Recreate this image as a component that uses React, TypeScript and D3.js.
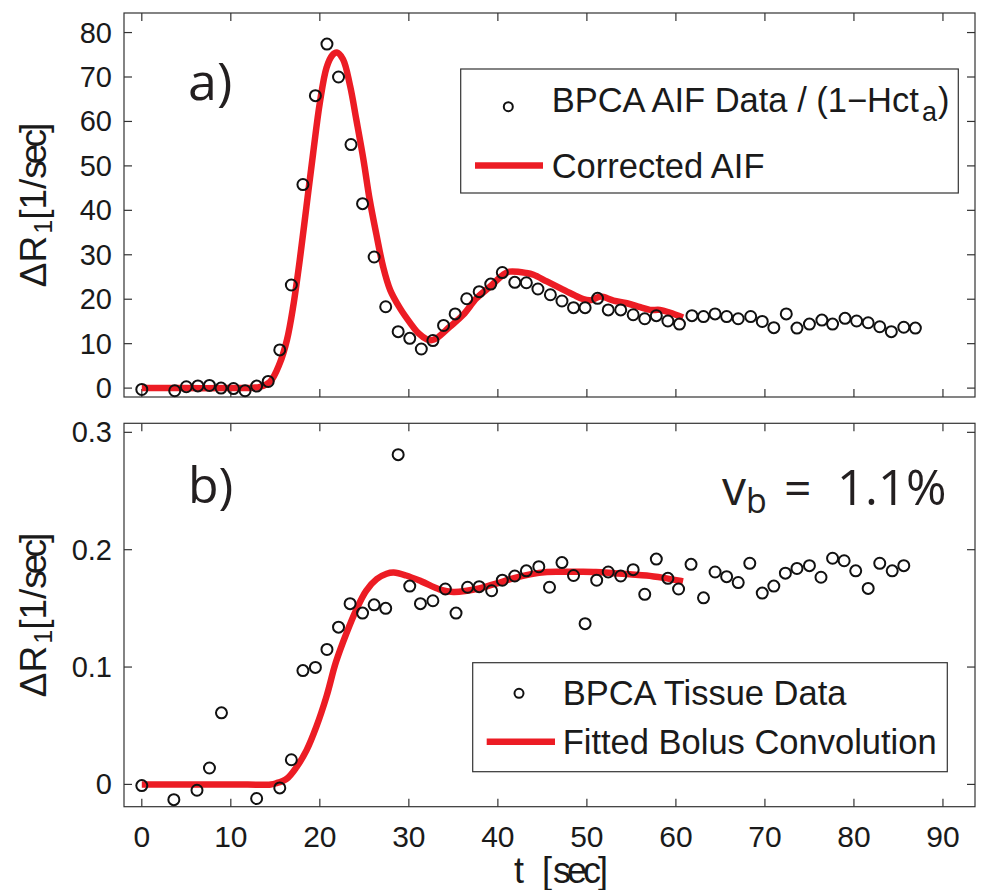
import React from "react";
import * as d3 from "d3";

// ---- Data ----
const aifT = [0, 3.7, 5.0, 6.3, 7.6, 8.9, 10.3, 11.6, 12.9, 14.2, 15.5, 16.8, 18.1, 19.5, 20.8, 22.1, 23.5, 24.8, 26.1, 27.4, 28.8, 30.1, 31.4, 32.7, 33.9, 35.2, 36.5, 37.9, 39.2, 40.5, 41.9, 43.2, 44.5, 45.9, 47.2, 48.5, 49.8, 51.2, 52.4, 53.8, 55.2, 56.5, 57.8, 59.1, 60.4, 61.8, 63.1, 64.4, 65.7, 67.0, 68.4, 69.7, 71.0, 72.4, 73.6, 75.0, 76.4, 77.6, 79.0, 80.3, 81.6, 82.9, 84.2, 85.6, 86.9];
const aifV = [-0.3, -0.6, 0.3, 0.5, 0.6, 0.0, -0.1, -0.6, 0.45, 1.5, 8.6, 23.2, 45.8, 65.8, 77.4, 70.0, 54.8, 41.5, 29.5, 18.3, 12.7, 11.2, 8.8, 10.7, 14.1, 16.7, 20.1, 21.7, 23.4, 26.0, 23.8, 23.7, 22.3, 21.0, 19.6, 18.1, 18.1, 20.2, 17.6, 17.6, 16.5, 15.6, 16.3, 15.1, 14.4, 16.3, 16.1, 16.7, 16.1, 15.6, 16.1, 15.0, 13.6, 16.7, 13.5, 14.4, 15.3, 14.4, 15.7, 15.1, 14.7, 13.8, 12.7, 13.7, 13.5];

const aifFitT = [0, 5, 10, 12.5, 13.3, 14.4, 15.5, 16.3, 17.0, 17.75, 18.5, 19.25, 20.0, 20.75, 21.4, 21.9, 22.6, 23.4, 24.1, 24.9, 25.6, 26.4, 27.1, 27.9, 29.0, 30.1, 31.1, 32.0, 32.6, 33.1, 34.6, 36.1, 37.6, 39.1, 40.6, 41.3, 43.2, 44.0, 45.5, 47.0, 48.5, 49.6, 50.5, 51.5, 53.0, 54.5, 56.0, 57.1, 58.2, 59.3, 60.8];
const aifFitV = [0, 0, 0, 0.1, 0.3, 1.4, 5.6, 10.8, 18.3, 28.9, 40.9, 52.9, 64.2, 72.1, 74.9, 75.5, 74.0, 68.0, 60.4, 51.4, 42.4, 34.1, 27.4, 22.1, 18.0, 14.8, 12.3, 11.0, 10.8, 11.2, 13.8, 16.5, 20.2, 22.8, 25.5, 26.2, 25.9, 25.5, 24.0, 22.5, 21.0, 20.0, 19.8, 20.6, 19.7, 19.1, 18.2, 17.6, 17.6, 17.0, 15.9];

const tisT = [0, 3.6, 6.2, 7.6, 8.95, 12.9, 15.5, 16.8, 18.1, 19.5, 20.8, 22.1, 23.4, 24.8, 26.1, 27.4, 28.8, 30.1, 31.3, 32.7, 34.1, 35.3, 36.6, 37.9, 39.3, 40.5, 41.9, 43.2, 44.6, 45.8, 47.2, 48.5, 49.8, 51.1, 52.4, 53.8, 55.2, 56.5, 57.8, 59.1, 60.3, 61.7, 63.1, 64.4, 65.7, 67.0, 68.3, 69.7, 71.0, 72.3, 73.6, 75.0, 76.3, 77.6, 78.9, 80.2, 81.6, 82.9, 84.3, 85.6];
const tisV = [-0.001, -0.013, -0.005, 0.014, 0.061, -0.012, -0.003, 0.021, 0.097, 0.0997, 0.115, 0.134, 0.154, 0.146, 0.153, 0.150, 0.281, 0.169, 0.154, 0.1565, 0.1665, 0.146, 0.168, 0.1685, 0.165, 0.174, 0.1776, 0.182, 0.1855, 0.168, 0.189, 0.178, 0.137, 0.174, 0.181, 0.1776, 0.183, 0.162, 0.192, 0.1756, 0.1665, 0.1875, 0.159, 0.181, 0.177, 0.172, 0.1884, 0.163, 0.169, 0.180, 0.184, 0.1864, 0.1765, 0.1927, 0.1906, 0.182, 0.167, 0.1884, 0.182, 0.1864];

const tisFitT = [0, 10, 14.5, 15.1, 16.3, 17.4, 18.5, 19.6, 20.75, 21.8, 23.0, 24.1, 25.2, 26.4, 27.5, 28.3, 29.7, 31.4, 33.5, 35.0, 36.5, 37.9, 39.8, 41.7, 43.6, 45.5, 47.3, 49.2, 51.0, 53.0, 54.8, 56.7, 58.6, 60.4, 60.8];
const tisFitV = [0, 0, 0, 0.001, 0.005, 0.015, 0.029, 0.049, 0.075, 0.104, 0.129, 0.149, 0.165, 0.175, 0.1795, 0.1805, 0.178, 0.173, 0.166, 0.164, 0.165, 0.167, 0.171, 0.1756, 0.179, 0.181, 0.1812, 0.1812, 0.181, 0.180, 0.179, 0.178, 0.176, 0.1736, 0.173];

const xTicks = [0, 10, 20, 30, 40, 50, 60, 70, 80, 90];
const topYTicks = [0, 10, 20, 30, 40, 50, 60, 70, 80];
const botYTicks = [0, 0.1, 0.2, 0.3];
const botYTickLabels = ["0", "0.1", "0.2", "0.3"];

const legendTop = ["BPCA AIF Data / (1\u2212Hct", "a", ")", "Corrected AIF"];
const legendBot = ["BPCA Tissue Data", "Fitted Bolus Convolution"];

// ---- Layout ----
const W = 989, H = 890;
const L = 124, R = 975;
const TOP = { y0: 13, y1: 397 };
const BOT = { y0: 423.3, y1: 806.7 };
const RED = "#ec1c24";
const AX = "#333";
const TXT = "#1a1a1a";
const SANS = "'Liberation Sans', Arial, Helvetica, sans-serif";
const HUM = "'Open Sans', 'Noto Sans', sans-serif";

const x = d3.scaleLinear().domain([-2, 93.6]).range([L, R]);
const yTop = d3.scaleLinear().domain([-2, 84.4]).range([TOP.y1, TOP.y0]);
const yBot = d3.scaleLinear().domain([-0.019, 0.3077]).range([BOT.y1, BOT.y0]);

function Frame({ y, y0, y1, yTicks }: any) {
  const tl = 8;
  return (
    <g stroke={AX} strokeWidth={1.2} fill="none">
      {xTicks.map((t) => (
        <g key={"x" + t}>
          <line x1={x(t)} x2={x(t)} y1={y1} y2={y1 - tl} />
          <line x1={x(t)} x2={x(t)} y1={y0} y2={y0 + tl} />
        </g>
      ))}
      {yTicks.map((t: number) => (
        <g key={"y" + t}>
          <line x1={L} x2={L + tl} y1={y(t)} y2={y(t)} />
          <line x1={R} x2={R - tl} y1={y(t)} y2={y(t)} />
        </g>
      ))}
      <rect x={L} y={y0} width={R - L} height={y1 - y0} />
    </g>
  );
}

function YLabel({ cy }: { cy: number }) {
  return (
    <text
      transform={`translate(46, ${cy}) rotate(-90)`}
      textAnchor="middle"
      fontFamily={SANS}
      fontSize={37}
      fill={TXT}
    >
      <tspan>{"\u0394R"}</tspan>
      <tspan fontSize={25} dy={6} dx={2}>1</tspan>
      <tspan dy={-6}>[1/</tspan>
      <tspan letterSpacing={-4}>sec</tspan>
      <tspan>]</tspan>
    </text>
  );
}

export default function App() {
  const lineTop = d3
    .line<number>()
    .x((_, i) => x(aifFitT[i]))
    .y((v) => yTop(v))
    .curve(d3.curveCatmullRom.alpha(0.5));
  const lineBot = d3
    .line<number>()
    .x((_, i) => x(tisFitT[i]))
    .y((v) => yBot(v))
    .curve(d3.curveCatmullRom.alpha(0.5));

  return (
    <svg
      width={W}
      height={H}
      viewBox={`0 0 ${W} ${H}`}
      style={{ position: "absolute", left: 0, top: 0, background: "#fff", display: "block" }}
    >
      <rect x={0} y={0} width={W} height={H} fill="#fff" />

      {/* ===== Top panel ===== */}
      <Frame y={yTop} y0={TOP.y0} y1={TOP.y1} yTicks={topYTicks} />
      {topYTicks.map((t) => (
        <text key={t} x={112} y={yTop(t) + 10} textAnchor="end" fontFamily={SANS} fontSize={29} fill={TXT}>
          {t}
        </text>
      ))}
      <YLabel cy={(TOP.y0 + TOP.y1) / 2} />
      <path d={lineTop(aifFitV) || ""} fill="none" stroke={RED} strokeWidth={6.5} strokeLinejoin="round" />
      {aifT.map((t, i) => (
        <circle key={i} cx={x(t)} cy={yTop(aifV[i])} r={5.5} fill="none" stroke="#111" strokeWidth={2} />
      ))}
      <text x={188} y={100} fontFamily={HUM} fontSize={52} fill="#231f20">a)</text>

      {/* legend top */}
      <rect x={460.7} y={69} width={497.6} height={124} fill="#fff" stroke={AX} strokeWidth={1.2} />
      <circle cx={508.3} cy={106.7} r={4.5} fill="none" stroke="#111" strokeWidth={2} />
      <text x={551.7} y={112} fontFamily={SANS} fontSize={34.5} fill={TXT}>
        <tspan>{legendTop[0]}</tspan>
        <tspan fontSize={27} dy={9} dx={3}>{legendTop[1]}</tspan>
        <tspan dy={-9} dx={1}>{legendTop[2]}</tspan>
      </text>
      <line x1={475} x2={543} y1={165.5} y2={165.5} stroke={RED} strokeWidth={6.5} />
      <text x={551.7} y={178} fontFamily={SANS} fontSize={34.5} fill={TXT}>{legendTop[3]}</text>

      {/* ===== Bottom panel ===== */}
      <Frame y={yBot} y0={BOT.y0} y1={BOT.y1} yTicks={botYTicks} />
      {botYTicks.map((t, i) => (
        <text key={t} x={112} y={yBot(t) + 10} textAnchor="end" fontFamily={SANS} fontSize={29} fill={TXT}>
          {botYTickLabels[i]}
        </text>
      ))}
      <YLabel cy={(BOT.y0 + BOT.y1) / 2} />
      <path d={lineBot(tisFitV) || ""} fill="none" stroke={RED} strokeWidth={6.5} strokeLinejoin="round" />
      {tisT.map((t, i) => (
        <circle key={i} cx={x(t)} cy={yBot(tisV[i])} r={5.5} fill="none" stroke="#111" strokeWidth={2} />
      ))}
      <text x={188} y={503} fontFamily={HUM} fontSize={50} fill="#231f20">b)</text>
      <text x={722} y={505} fontFamily={HUM} fontSize={48} fill="#231f20">v</text>
      <text x={746} y={513} fontFamily={HUM} fontSize={34} fill="#231f20">b</text>
      <text x={784} y={505} fontFamily={HUM} fontSize={48} fill="#231f20">=</text>
      <text x={837} y={505} fontFamily={HUM} fontSize={49} fill="#231f20">1.1%</text>

      {/* legend bottom */}
      <rect x={472.7} y={662.7} width={474.6} height={109} fill="#fff" stroke={AX} strokeWidth={1.2} />
      <circle cx={519} cy={693.3} r={4.5} fill="none" stroke="#111" strokeWidth={2} />
      <text x={562.7} y={705} fontFamily={SANS} fontSize={34.5} fill={TXT}>{legendBot[0]}</text>
      <line x1={486.7} x2={555} y1={741.7} y2={741.7} stroke={RED} strokeWidth={6.5} />
      <text x={562.7} y={753.5} fontFamily={SANS} fontSize={34.5} fill={TXT}>{legendBot[1]}</text>

      {/* x tick labels */}
      {xTicks.map((t) => (
        <text key={t} x={x(t)} y={847} textAnchor="middle" fontFamily={SANS} fontSize={30} fill={TXT}>
          {t}
        </text>
      ))}
      <text y={883} fontFamily={SANS} fontSize={36} fill={TXT}>
        <tspan x={514}>t</tspan>
        <tspan x={542}>[</tspan>
        <tspan x={553} letterSpacing={-4}>sec</tspan>
        <tspan x={598}>]</tspan>
      </text>
    </svg>
  );
}
